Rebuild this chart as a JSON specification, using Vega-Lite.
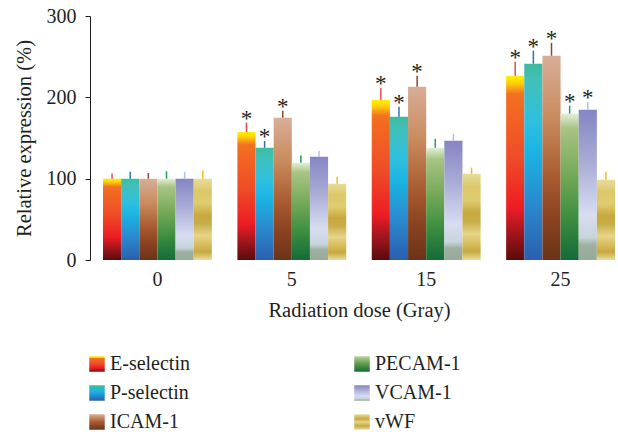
{
  "$schema": "https://vega.github.io/schema/vega-lite/v6.json",
  "autosize": {"type": "none"},
  "padding": {"left": 90, "top": 16, "right": 0, "bottom": 172},
  "width": 528,
  "height": 244,
  "config": {
    "font": "Liberation Serif",
    "view": {"stroke": null},
    "axis": {"labelFont": "Liberation Serif", "titleFont": "Liberation Serif", "labelColor": "#231f20", "titleColor": "#231f20", "labelFontSize": 20, "titleFontSize": 20.5, "titleFontWeight": "normal", "grid": false},
    "legend": {"labelFont": "Liberation Serif", "labelFontSize": 20, "labelColor": "#231f20"}
  },
  "data": {
    "values": [
      {"dose": "0", "marker": "E-selectin", "value": 100, "upper": 106.5, "sig": false},
      {"dose": "0", "marker": "P-selectin", "value": 100, "upper": 108.5, "sig": false},
      {"dose": "0", "marker": "ICAM-1", "value": 100, "upper": 107, "sig": false},
      {"dose": "0", "marker": "PECAM-1", "value": 100, "upper": 109, "sig": false},
      {"dose": "0", "marker": "VCAM-1", "value": 100, "upper": 108.5, "sig": false},
      {"dose": "0", "marker": "vWF", "value": 100, "upper": 110, "sig": false},
      {"dose": "5", "marker": "E-selectin", "value": 157.4, "upper": 168.8, "sig": true},
      {"dose": "5", "marker": "P-selectin", "value": 138, "upper": 146.3, "sig": true},
      {"dose": "5", "marker": "ICAM-1", "value": 175, "upper": 183.6, "sig": true},
      {"dose": "5", "marker": "PECAM-1", "value": 119.6, "upper": 128.6, "sig": false},
      {"dose": "5", "marker": "VCAM-1", "value": 127, "upper": 134.4, "sig": false},
      {"dose": "5", "marker": "vWF", "value": 93.8, "upper": 102.4, "sig": false},
      {"dose": "15", "marker": "E-selectin", "value": 197, "upper": 211.5, "sig": true},
      {"dose": "15", "marker": "P-selectin", "value": 176.2, "upper": 188.5, "sig": true},
      {"dose": "15", "marker": "ICAM-1", "value": 213, "upper": 226.6, "sig": true},
      {"dose": "15", "marker": "PECAM-1", "value": 138, "upper": 149, "sig": false},
      {"dose": "15", "marker": "VCAM-1", "value": 146.7, "upper": 155.3, "sig": false},
      {"dose": "15", "marker": "vWF", "value": 106, "upper": 113.5, "sig": false},
      {"dose": "25", "marker": "E-selectin", "value": 226.6, "upper": 243.8, "sig": true},
      {"dose": "25", "marker": "P-selectin", "value": 241.4, "upper": 257.4, "sig": true},
      {"dose": "25", "marker": "ICAM-1", "value": 251.2, "upper": 267, "sig": true},
      {"dose": "25", "marker": "PECAM-1", "value": 180, "upper": 189.7, "sig": true},
      {"dose": "25", "marker": "VCAM-1", "value": 184.8, "upper": 194.3, "sig": true},
      {"dose": "25", "marker": "vWF", "value": 98.7, "upper": 108.6, "sig": false}
    ]
  },
  "encoding": {
    "x": {
      "field": "dose", "type": "nominal", "sort": ["0", "5", "15", "25"],
      "scale": {"range": [13, 525], "paddingInner": 0.19, "paddingOuter": 0},
      "axis": {"title": "Radiation dose (Gray)", "labelAngle": 0, "domain": false, "ticks": false, "labelPadding": 9, "titlePadding": 11}
    },
    "xOffset": {
      "field": "marker", "type": "nominal",
      "scale": {"domain": ["E-selectin", "P-selectin", "ICAM-1", "PECAM-1", "VCAM-1", "vWF"], "paddingInner": 0, "paddingOuter": 0}
    },
    "y": {
      "field": "value", "type": "quantitative",
      "scale": {"domain": [0, 300], "nice": false},
      "axis": {"title": "Relative expression (%)", "values": [0, 100, 200, 300], "domainColor": "#231f20", "tickColor": "#231f20", "tickSize": 5, "labelPadding": 9, "titlePadding": 12}
    }
  },
  "layer": [
    {
      "transform": [{"filter": "datum.marker === 'E-selectin'"}],
      "mark": {"type": "bar", "color": {"gradient": "linear", "x1": 0, "y1": 0, "x2": 0, "y2": 1, "stops": [{"offset": 0, "color": "#fff200"}, {"offset": 0.04, "color": "#fdd00a"}, {"offset": 0.1, "color": "#f37021"}, {"offset": 0.45, "color": "#ef4b27"}, {"offset": 0.72, "color": "#ed1c24"}, {"offset": 0.85, "color": "#a3161d"}, {"offset": 1, "color": "#5a0b0c"}]}}
    },
    {
      "transform": [{"filter": "datum.marker === 'P-selectin'"}],
      "mark": {"type": "bar", "color": {"gradient": "linear", "x1": 0, "y1": 0, "x2": 0, "y2": 1, "stops": [{"offset": 0, "color": "#3cbc9c"}, {"offset": 0.08, "color": "#41c0b8"}, {"offset": 0.3, "color": "#2ebfe0"}, {"offset": 0.45, "color": "#1ab4e4"}, {"offset": 0.7, "color": "#2a8cd0"}, {"offset": 1, "color": "#2a5fae"}]}}
    },
    {
      "transform": [{"filter": "datum.marker === 'ICAM-1'"}],
      "mark": {"type": "bar", "color": {"gradient": "linear", "x1": 0, "y1": 0, "x2": 0, "y2": 1, "stops": [{"offset": 0, "color": "#d8ae98"}, {"offset": 0.3, "color": "#c98b5e"}, {"offset": 0.6, "color": "#a85a30"}, {"offset": 0.8, "color": "#8a4220"}, {"offset": 1, "color": "#6a3418"}]}}
    },
    {
      "transform": [{"filter": "datum.marker === 'PECAM-1'"}],
      "mark": {"type": "bar", "color": {"gradient": "linear", "x1": 0, "y1": 0, "x2": 0, "y2": 1, "stops": [{"offset": 0, "color": "#e2efd8"}, {"offset": 0.1, "color": "#a8c484"}, {"offset": 0.4, "color": "#78aa5a"}, {"offset": 0.7, "color": "#3f8f40"}, {"offset": 1, "color": "#136b38"}]}}
    },
    {
      "transform": [{"filter": "datum.marker === 'VCAM-1'"}],
      "mark": {"type": "bar", "color": {"gradient": "linear", "x1": 0, "y1": 0, "x2": 0, "y2": 1, "stops": [{"offset": 0, "color": "#8585c2"}, {"offset": 0.35, "color": "#a9acd6"}, {"offset": 0.7, "color": "#d8ddf2"}, {"offset": 0.85, "color": "#c8d4dc"}, {"offset": 0.9, "color": "#9fb0a0"}, {"offset": 1, "color": "#96aa98"}]}}
    },
    {
      "transform": [{"filter": "datum.marker === 'vWF'"}],
      "mark": {"type": "bar", "color": {"gradient": "linear", "x1": 0, "y1": 0, "x2": 0, "y2": 1, "stops": [{"offset": 0, "color": "#e8dc9a"}, {"offset": 0.15, "color": "#dcc86a"}, {"offset": 0.3, "color": "#e0cc70"}, {"offset": 0.45, "color": "#c8a840"}, {"offset": 0.55, "color": "#c8ac48"}, {"offset": 0.7, "color": "#e6d488"}, {"offset": 0.8, "color": "#d8c060"}, {"offset": 0.9, "color": "#c8a840"}, {"offset": 1, "color": "#eadc9e"}]}}
    },
    {
      "mark": {"type": "rule", "strokeWidth": 1.5},
      "encoding": {
        "y2": {"field": "upper"},
        "stroke": {
          "field": "marker", "type": "nominal",
          "scale": {"domain": ["E-selectin", "P-selectin", "ICAM-1", "PECAM-1", "VCAM-1", "vWF"], "range": ["#e84a4f", "#2277c0", "#8b4a2b", "#1fa04a", "#a9c4e6", "#f5b820"]},
          "legend": {
            "title": null, "orient": "none", "legendX": -3, "legendY": 338, "direction": "vertical", "columns": 2,
            "columnPadding": 162, "rowPadding": 9, "symbolType": "square", "symbolSize": 240, "symbolStrokeWidth": 0,
            "labelOffset": 3, "padding": 0,
            "encode": {
              "symbols": {
                "update": {
                  "stroke": {"value": "transparent"},
                  "fill": [
                    {"test": "datum.value === 'E-selectin'", "value": {"gradient": "linear", "x1": 0, "y1": 0, "x2": 0, "y2": 1, "stops": [{"offset": 0, "color": "#fff200"}, {"offset": 0.08, "color": "#fdd00a"}, {"offset": 0.15, "color": "#f37021"}, {"offset": 0.5, "color": "#ef4b27"}, {"offset": 0.75, "color": "#ed1c24"}, {"offset": 1, "color": "#7a0f12"}]}},
                    {"test": "datum.value === 'P-selectin'", "value": {"gradient": "linear", "x1": 0, "y1": 0, "x2": 0, "y2": 1, "stops": [{"offset": 0, "color": "#3cbc9c"}, {"offset": 0.4, "color": "#1ab4e4"}, {"offset": 1, "color": "#2a5fae"}]}},
                    {"test": "datum.value === 'ICAM-1'", "value": {"gradient": "linear", "x1": 0, "y1": 0, "x2": 0, "y2": 1, "stops": [{"offset": 0, "color": "#d8ae98"}, {"offset": 0.5, "color": "#a85a30"}, {"offset": 1, "color": "#6a3418"}]}},
                    {"test": "datum.value === 'PECAM-1'", "value": {"gradient": "linear", "x1": 0, "y1": 0, "x2": 0, "y2": 1, "stops": [{"offset": 0, "color": "#b8d49a"}, {"offset": 0.5, "color": "#5a9a4a"}, {"offset": 1, "color": "#136b38"}]}},
                    {"test": "datum.value === 'VCAM-1'", "value": {"gradient": "linear", "x1": 0, "y1": 0, "x2": 0, "y2": 1, "stops": [{"offset": 0, "color": "#8585c2"}, {"offset": 0.7, "color": "#d8ddf2"}, {"offset": 0.85, "color": "#c8d4dc"}, {"offset": 1, "color": "#96aa98"}]}},
                    {"value": {"gradient": "linear", "x1": 0, "y1": 0, "x2": 0, "y2": 1, "stops": [{"offset": 0, "color": "#e8dc9a"}, {"offset": 0.3, "color": "#c8a840"}, {"offset": 0.5, "color": "#e6d488"}, {"offset": 0.75, "color": "#c8a840"}, {"offset": 1, "color": "#eadc9e"}]}}
                  ]
                }
              }
            }
          }
        }
      }
    },
    {
      "transform": [{"filter": "datum.sig"}],
      "mark": {"type": "text", "text": "*", "font": "Liberation Serif", "fontSize": 23, "color": "#231f20", "baseline": "alphabetic", "dy": 3},
      "encoding": {
        "y": {"field": "upper", "type": "quantitative"}
      }
    }
  ]
}
